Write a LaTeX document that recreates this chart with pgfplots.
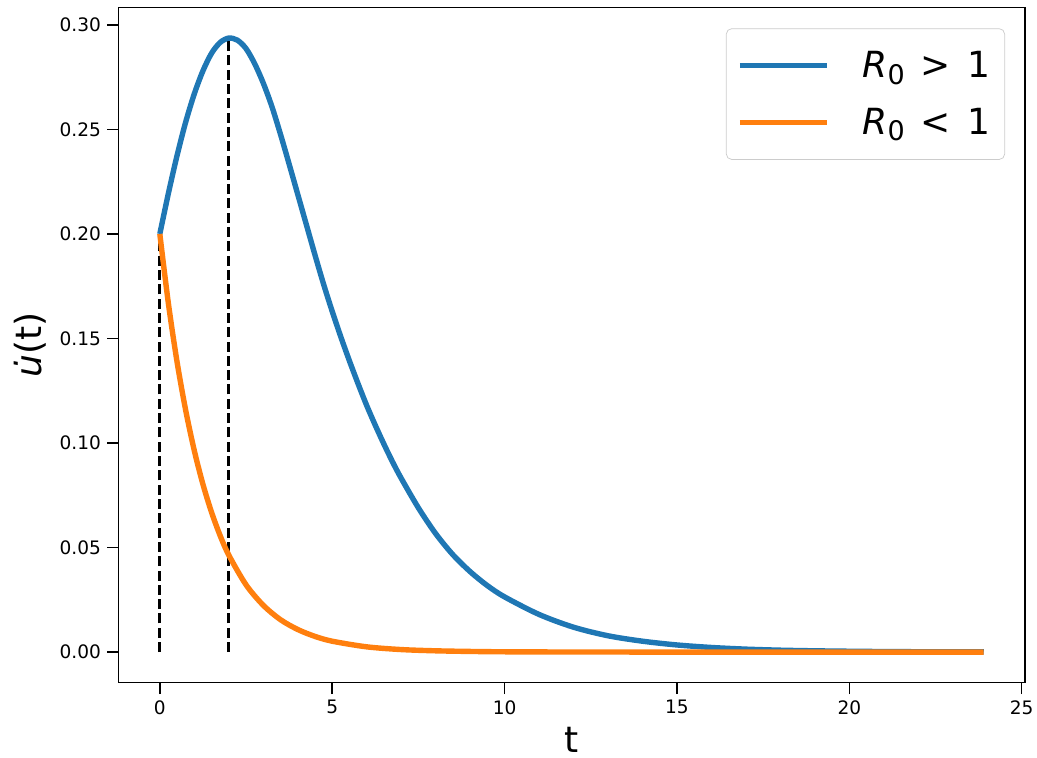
\documentclass[border=0pt]{standalone}
\usepackage{fontspec}
\setmainfont{DejaVu Sans}
\usepackage{pgfplots}
\pgfplotsset{compat=1.18}
\definecolor{mblue}{HTML}{1F77B4}
\definecolor{morange}{HTML}{FF7F0E}

\pgfplotstableread{
t u
0 0.2000
0.25 0.2195
0.5 0.2375
0.75 0.2535
1.0 0.2670
1.25 0.2780
1.5 0.2864
1.75 0.2916
2.0 0.2937
2.25 0.2927
2.5 0.2887
2.75 0.2815
3.0 0.2722
3.25 0.2610
3.5 0.2477
3.75 0.2335
4.0 0.2190
4.25 0.2045
4.5 0.1900
4.75 0.1760
5.0 0.1630
5.25 0.1508
5.5 0.1393
5.75 0.1284
6.0 0.1180
6.25 0.1085
6.5 0.0995
6.75 0.0910
7.0 0.0832
7.5 0.0690
8.0 0.0567
8.5 0.0466
9.0 0.0385
9.5 0.0318
10.0 0.0264
11.0 0.0180
12.0 0.0119
13.0 0.0078
14.0 0.0052
15.0 0.0034
16.0 0.0022
17.0 0.0014
18.0 0.0009
19.0 0.0006
20.0 0.0004
21.0 0.00025
22.0 0.00016
23.0 0.0001
23.9 0.00007
}\bluedata

\pgfplotstableread{
t u
0 0.2000
0.25 0.1666
0.5 0.1388
0.75 0.1157
1.0 0.0964
1.25 0.0803
1.5 0.0669
1.75 0.0557
2.0 0.0464
2.5 0.0322
3.0 0.0224
3.5 0.0155
4.0 0.0108
4.5 0.0075
5.0 0.0052
6.0 0.0025
7.0 0.0012
8.0 0.0006
9.0 0.0003
10.0 0.00013
12.0 0.00003
15.0 0.000004
23.9 0.0
}\orangedata

\newcommand{\Rsub}{\textit{R}\raisebox{-3.7pt}{\fontsize{15}{16}\selectfont 0}}

\begin{document}
\begin{tikzpicture}
\begin{axis}[
  at={(0,0)}, anchor=south west,
  scale only axis, width=503.5pt, height=375.2pt,
  xmin=-1.195, xmax=25.095, ymin=-0.01468, ymax=0.30838,
  xtick={0,5,10,15,20,25},
  ytick={0,0.05,0.1,0.15,0.2,0.25,0.3},
  yticklabel style={/pgf/number format/.cd, fixed, fixed zerofill, precision=2},
  /pgf/number format/assume math mode=true,
  tick label style={font=\fontsize{10.3}{12}\selectfont},
  tick align=outside, major tick length=6.3pt,
  xtick pos=bottom, ytick pos=left,
  axis line style={line width=0.8pt},
  every tick/.style={black, line width=0.8pt},
  scaled y ticks=false,
  xlabel={t}, ylabel={\textit{\.u}(t)},
  label style={font=\fontsize{20}{23}\selectfont},
  xlabel style={at={(axis description cs:0.5,-0.1026)}, anchor=base},
  ylabel style={at={(axis description cs:-0.0978,0.5)}, anchor=center},
  legend style={at={(0.978,0.969)}, anchor=north east, draw=black!20,
    rounded corners=3pt, fill=white, fill opacity=0.8, text opacity=1,
    font=\fontsize{20}{24}\selectfont, inner xsep=6pt, inner ysep=10.5pt,
    row sep=11.5pt, /tikz/every odd column/.append style={column sep=16pt}},
  legend cell align=left,
  legend image code/.code={\draw[#1] (0pt,0pt) -- (48.7pt,0pt);},
]
\addplot[black, line width=1.5pt, dash pattern=on 5.55pt off 2.4pt, forget plot] coordinates {(0,0) (0,0.2)};
\addplot[black, line width=1.5pt, dash pattern=on 5.55pt off 2.4pt, forget plot] coordinates {(2,0) (2,0.2937)};
\addplot[mblue, line width=3pt, smooth, tension=0.5] table[x=t,y=u] {\bluedata};
\addlegendentry{\Rsub\hspace{9pt}>\hspace{9pt}1}
\addplot[morange, line width=3pt, smooth, tension=0.5] table[x=t,y=u] {\orangedata};
\addlegendentry{\Rsub\hspace{9pt}<\hspace{9pt}1}
\end{axis}
\pgfresetboundingbox
\path[use as bounding box] (-65.9pt,-41.8pt) rectangle (510.2pt,379.3pt);
\end{tikzpicture}
\end{document}
